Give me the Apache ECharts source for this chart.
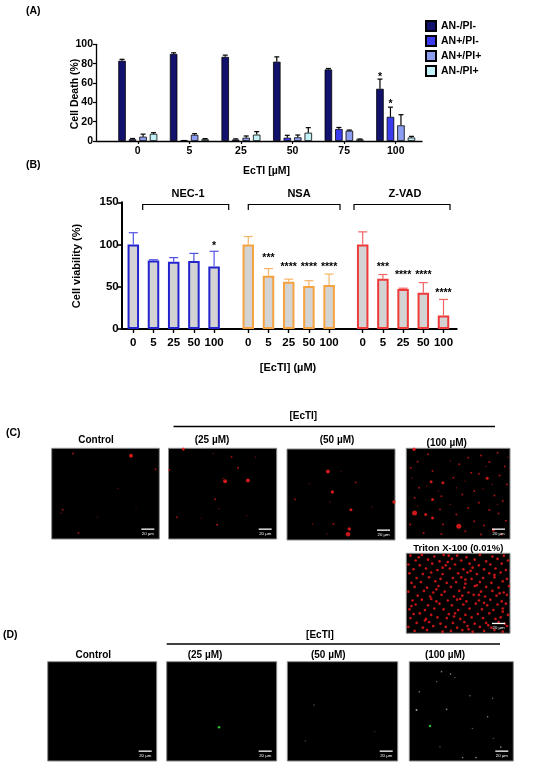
<!DOCTYPE html>
<html>
<head>
<meta charset="utf-8">
<title>EcTI cell death</title>
<script src="https://cdn.jsdelivr.net/npm/echarts@6/dist/echarts.min.js"></script>
<style>
  html, body { margin: 0; padding: 0; background: #fff; }
  #main { width: 550px; height: 765px; }
</style>
</head>
<body>
<div id="main"></div>
<script>
// ---------- (A) annexin / PI ----------
var doseA = ['0', '5', '25', '50', '75', '100'];
var namesA = ['AN-/PI-', 'AN+/PI-', 'AN+/PI+', 'AN-/PI+'];
var anNegPiNeg = [83, 90, 87, 82, 74, 54];
var anNegPiNegErr = [1.5, 1.2, 1.8, 5, 1, 10];
var anPosPiNeg = [1.8, 0.3, 1.5, 3.4, 12.4, 25];
var anPosPiNegErr = [0.8, 0.2, 0.7, 2.5, 1.6, 10];
var anPosPiPos = [4.5, 6.4, 3.4, 3.8, 10.7, 16.2];
var anPosPiPosErr = [2.6, 1.2, 1.8, 2.4, 0.6, 11];
var anNegPiPos = [7.4, 1.8, 6.6, 8.6, 1.7, 3.6];
var anNegPiPosErr = [1.2, 0.7, 3.1, 5.2, 0.4, 1.2];
var starA1 = ['', '', '', '', '', '*'];
var starA1Level = [0, 0, 0, 0, 0, 68.5];
var starA2 = ['', '', '', '', '', '*'];
var starA2Level = [0, 0, 0, 0, 0, 40.5];
var noStars = ['', '', '', '', '', ''];

// ---------- (B) viability with inhibitors ----------
var doseB = ['0', '5', '25', '50', '100'];
var nec1 = [100, 81, 79.5, 80.5, 74];
var nec1Err = [14, 1, 5, 9, 18];
var nec1Stars = ['', '', '', '', '*'];
var nec1StarLevel = [0, 0, 0, 0, 101.5];
var nsa = [100, 63, 56, 51, 52];
var nsaErr = [9.5, 8.5, 3, 6.2, 13];
var nsaStars = ['', '***', '****', '****', '****'];
var nsaStarLevel = [0, 86.5, 76.6, 76.6, 76.6];
var zvad = [100, 59.5, 47.5, 43, 16];
var zvadErr = [15, 5, 0.8, 11.9, 19];
var zvadStars = ['', '***', '****', '****', '****'];
var zvadStarLevel = [0, 75.8, 66.7, 66.7, 45.4];

// ---------- (C) PI images: spots [x%, y%, size, alpha] ----------
var cControl = [[19.9,5.6,2,0.8],[73.7,8.1,4,1],[96.5,23,2,0.7],[61.4,44.4,1.5,0.4],[10.2,67.8,2,0.7],
  [8.8,71.5,1.5,0.5],[78.4,64.8,1.5,0.35],[24.9,93.3,2,0.7],[42.4,75.9,1.5,0.35]];
var c25 = [[13.7,0.7,3,1],[0.5,24,2,0.8],[41.5,5.6,1.5,0.5],[58.2,9.3,2,0.7],[64.3,21.5,2,0.8],[80.4,10,1.5,0.5],
  [52.3,36.3,4,1],[73.4,35.6,4,1],[50.3,33.3,1.5,0.6],[43,56.3,2,0.8],[46.5,66.7,1.5,0.5],[7.9,75.9,2,0.7],
  [45,84.4,2,0.9],[30.4,77,1.5,0.4],[72.2,74,1.5,0.4]];
var c50 = [[37.9,24.7,4,1],[42,47.2,3.5,1],[59.2,66.8,3,1],[57.7,87.8,3.5,1],[56.5,93.7,4.5,1],[99.1,58.3,3.5,1],
  [7.4,55.4,2,0.7],[23.7,82.3,1.5,0.6],[42.9,82.3,2,0.7],[63.6,36.9,2,0.7],[50.3,25.1,1.5,0.4],[39.9,58.3,1.5,0.5],
  [78.4,63.8,1.5,0.4],[20.7,38,1.5,0.4],[37,93.4,1.5,0.5]];
var c100 = [[7.5,1.1,3.5,1],[10.9,14.8,2,0.8],[21,6.6,2,0.8],[4.3,21.4,2,0.8],[25.3,25.1,2,0.8],[35.3,38,3,1],
  [23.9,36.9,3,1],[51.1,17.7,2,0.8],[59.8,10.3,2,0.8],[5.2,32.5,1.5,0.6],[12.4,43.5,2,0.8],[19.5,41.7,1.5,0.6],
  [31,47.2,1.5,0.6],[45.4,32.5,2,0.8],[56.9,36.2,1.5,0.6],[62.6,26.9,2,0.8],[8,54.6,2,0.8],[25.3,56.5,3,1],
  [33.9,52.8,2,0.8],[42.5,62,1.5,0.6],[54,50.9,2,0.8],[8,71.2,5,1],[18.7,73.1,3,1],[25.3,76.8,3,1],
  [32.5,67.5,2,0.8],[48.3,73.1,2,0.8],[59.8,65.7,2,0.8],[50.6,86,5,1],[35.3,84.1,2,0.8],[16.7,93.4,2,0.8],
  [33.9,94.5,2,0.8],[56.9,91.5,2,0.8],[3.7,84.1,2,0.8],[10.9,63.8,1.5,0.6],[65.5,80.4,2,0.8],[42.5,14,1.5,0.6],
  [48.3,43.5,1.5,0.6],[65.5,47.2,2,0.8],[72,8,2,0.8],[80,15,2,0.8],[88,5,2,0.8],[95,20,2,0.8],[70,28,2,0.8],
  [78,33,3,1],[90,30,2,0.8],[97,40,2,0.8],[74,45,1.5,0.6],[85,52,2,0.8],[93,58,2,0.8],[70,60,2,0.8],
  [80,68,2,0.8],[89,72,2,0.8],[96,80,2,0.8],[75,85,2,0.8],[84,90,3,1],[92,95,2,0.8],[72,95,2,0.8],
  [98,10,1.5,0.6],[83,40,1.5,0.6],[88,62,1.5,0.6],[77,20,1.5,0.6]];
var cTriton = [[4,3],[15,2],[27,4],[36,2],[49,3],[58,5],[71,2],[83,4],[94,3],
  [9,9],[21,8],[32,10],[44,7],[53,9],[66,8],[77,10],[88,7],[98,9],
  [2,14],[13,15],[25,13],[38,15],[47,14],[61,13],[70,15],[81,14],[92,13],
  [7,20],[19,19],[30,21],[42,19],[55,20],[64,18],[75,20],[86,19],[96,21],
  [3,25],[16,26],[24,24],[35,26],[50,25],[59,24],[68,26],[80,25],[91,24],
  [10,31],[22,30],[33,32],[45,31],[53,30],[63,32],[74,31],[85,30],[97,32],
  [5,37],[14,36],[28,35],[39,37],[48,36],[57,38],[71,36],[82,37],[93,35],
  [8,42],[20,43],[31,41],[43,42],[56,43],[66,41],[77,42],[89,43],[99,41],
  [2,48],[17,47],[26,49],[37,48],[51,47],[60,49],[72,48],[83,47],[94,49],
  [11,53],[23,54],[34,52],[46,54],[54,53],[65,52],[76,54],[87,53],[97,52],
  [6,59],[15,58],[29,60],[40,59],[49,58],[58,60],[70,59],[81,58],[92,60],
  [9,64],[21,65],[32,63],[44,65],[55,64],[67,63],[78,65],[88,64],[96,63],
  [3,70],[18,71],[27,69],[36,70],[50,71],[61,69],[73,70],[84,71],[93,69],
  [7,76],[13,75],[24,77],[41,76],[47,75],[57,77],[69,76],[80,75],[98,77],
  [4,81],[19,82],[30,80],[39,81],[52,82],[63,80],[74,81],[86,82],[91,80],
  [10,87],[22,86],[33,88],[45,87],[56,86],[66,88],[77,87],[89,86],[95,88],
  [2,92],[16,93],[26,91],[38,92],[49,93],[59,91],[71,92],[82,93],[97,91],
  [8,97],[20,96],[35,98],[43,97],[54,96],[64,98],[75,97],[85,96],[93,98],
  [12,5],[40,11],[62,22],[85,27],[29,45],[52,57],[75,62],[18,84],[60,95],[90,50],
  [35,18],[68,40],[46,79],[5,66],[79,90],[57,33],[24,57],[93,73],[41,3],[70,52]];

// ---------- (D) green images ----------
var dControl = [];
var d25Green = [[47.6,66,2.6,1]];
var d50Gray = [[24.2,43.6,1.6,0.5],[16.4,79.9,1.4,0.4],[79.3,70.5,1.3,0.3]];
var d100Gray = [[31,10,1.6,0.7],[39.7,12.4,1.6,0.8],[43.9,16,1.4,0.6],[26.3,20.1,1.4,0.6],[9.6,30.2,1.6,0.7],
  [58.3,34.2,1.5,0.6],[80.1,36.9,1.5,0.6],[7,48.7,2,0.9],[35.9,48,1.8,0.7],[75.3,55.4,1.6,0.7],[60.6,67.1,1.4,0.6],
  [80.8,77.2,1.4,0.5],[29.5,85.6,1.4,0.5],[51.3,96.6,1.6,0.7],[64.1,96.6,1.6,0.8],[88,86,1.6,0.8]];
var d100Green = [[19.9,64.8,2.4,1]];

var FONT = '"Liberation Sans", Arial, Helvetica, sans-serif';
var chart = echarts.init(document.getElementById('main'));

// error bar (+ asterisk) drawn on top of a bar
function errorBars(ax, vals, errs, stars, levels, shift, cap, color, lw) {
    return {
        type: 'custom', xAxisIndex: ax, yAxisIndex: ax, z: 10, silent: true,
        data: vals.map(function (v, i) { return [i, v, v + errs[i], levels[i]]; }),
        renderItem: function (params, api) {
            var lo = api.coord([api.value(0), api.value(1)]);
            var hi = api.coord([api.value(0), api.value(2)]);
            var x = lo[0] + shift;
            var kids = [
                { type: 'line', shape: { x1: x, y1: lo[1], x2: x, y2: hi[1] }, style: { stroke: color, lineWidth: lw } },
                { type: 'line', shape: { x1: x - cap / 2, y1: hi[1], x2: x + cap / 2, y2: hi[1] }, style: { stroke: color, lineWidth: lw } }
            ];
            var s = stars[params.dataIndex];
            if (s) {
                var sp = api.coord([api.value(0), api.value(3)]);
                kids.push({ type: 'text', style: { text: s, x: x, y: sp[1] + 2.4, align: 'center', verticalAlign: 'middle',
                    fontFamily: FONT, fontWeight: 'bold', fontSize: 10.5, fill: '#000' } });
            }
            return { type: 'group', children: kids };
        }
    };
}

function spots(ax, pts, rgb, defSize) {
    return {
        type: 'scatter', xAxisIndex: ax, yAxisIndex: ax, silent: true, clip: true,
        data: pts,
        symbolSize: function (d) { return d[2] || defSize; },
        itemStyle: { color: function (p) { var a = p.data[3] == null ? 0.95 : p.data[3]; return 'rgba(' + rgb + ',' + a + ')'; } }
    };
}

function txt(x, y, s, size, align, rot, color, weight) {
    return { type: 'text', x: x, y: y, rotation: rot || 0, silent: true, z: 100,
        style: { text: s, fontFamily: FONT, fontWeight: weight || 'bold', fontSize: size, fill: color || '#000',
            align: align || 'center', verticalAlign: 'middle' } };
}

var boldLabel = { color: '#000', fontFamily: FONT, fontWeight: 'bold', interval: 0 };
var lineOnly = function (gi, w) {
    return { gridIndex: gi, type: 'value', min: 0, max: 1,
        axisLine: { show: true, lineStyle: { color: '#000', width: w } },
        axisTick: { show: false }, axisLabel: { show: false }, splitLine: { show: false } };
};

var grids = [
    { left: 112, top: 44.3, width: 309.5, height: 96.7 },      // 0 A data
    { left: 96, top: 44.3, width: 326, height: 96.7 },         // 1 A axes
    { left: 121.7, top: 202.3, width: 335, height: 126.7 },    // 2 B axes
    { left: 123.2, top: 202.3, width: 101, height: 126.7 },    // 3 NEC-1
    { left: 238.2, top: 202.3, width: 101, height: 126.7 },    // 4 NSA
    { left: 352.6, top: 202.3, width: 101, height: 126.7 }     // 5 Z-VAD
];
var xAxes = [
    { gridIndex: 0, type: 'category', data: doseA,
      axisLine: { show: false },
      axisTick: { show: true, alignWithLabel: true, length: 3, lineStyle: { color: '#000', width: 1.2 } },
      axisLabel: Object.assign({ fontSize: 10.5, margin: 4.5 }, boldLabel) },
    lineOnly(1, 1.3),
    lineOnly(2, 2)
];
var yAxes = [
    { gridIndex: 0, type: 'value', min: 0, max: 100, show: false },
    { gridIndex: 1, type: 'value', min: 0, max: 100, interval: 20, splitLine: { show: false },
      axisLine: { show: true, lineStyle: { color: '#000', width: 1.3 } },
      axisTick: { show: true, length: 3, lineStyle: { color: '#000', width: 1.2 } },
      axisLabel: Object.assign({ fontSize: 10.5, margin: 3 }, boldLabel) },
    { gridIndex: 2, type: 'value', min: 0, max: 150, interval: 50, splitLine: { show: false },
      axisLine: { show: true, lineStyle: { color: '#000', width: 2 } },
      axisTick: { show: true, length: 4, lineStyle: { color: '#000', width: 1.6 } },
      axisLabel: Object.assign({ fontSize: 11.5, margin: 3 }, boldLabel) }
];
for (var g = 3; g <= 5; g++) {
    xAxes.push({ gridIndex: g, type: 'category', data: doseB,
        axisLine: { show: false },
        axisTick: { show: true, alignWithLabel: true, length: 4, lineStyle: { color: '#000', width: 1.4 } },
        axisLabel: Object.assign({ fontSize: 11.5, margin: 8 }, boldLabel) });
    yAxes.push({ gridIndex: g, type: 'value', min: 0, max: 150, show: false });
}

// microscope fields: [left, top, width, height]
var imgBoxes = [
    [51.7, 448.3, 107.6, 90.7], [168.5, 448.3, 108.2, 90.7], [287, 449, 108, 91], [406.3, 448.3, 103.7, 90.7],
    [406.3, 553.3, 103.7, 80],
    [47.7, 661.7, 109, 99.3], [166.7, 661.7, 110, 99.3], [287.3, 661.7, 110.4, 99.3], [409.3, 661.7, 104, 99.3]
];
var graphics = [];
imgBoxes.forEach(function (b) {
    var gi = grids.length;
    grids.push({ left: b[0], top: b[1], width: b[2], height: b[3], show: true,
        backgroundColor: '#000', borderColor: '#8a8a8a', borderWidth: 1 });
    xAxes.push({ gridIndex: gi, type: 'value', min: 0, max: 100, show: false });
    yAxes.push({ gridIndex: gi, type: 'value', min: 0, max: 100, inverse: true, show: false });
    var r = b[0] + b[2], btm = b[1] + b[3];
    graphics.push({ type: 'rect', z: 100, silent: true, shape: { x: r - 18, y: btm - 10.5, width: 13, height: 1.3 }, style: { fill: '#fff' } });
    graphics.push(txt(r - 11.5, btm - 5, '20 µm', 4.3, 'center', 0, '#fff', 'normal'));
});

var barA = function (i, data, color) {
    return { name: namesA[i], type: 'bar', xAxisIndex: 0, yAxisIndex: 0, data: data, barWidth: 7.5, barGap: '40%',
        itemStyle: { color: color, borderColor: '#000', borderWidth: 0.8 } };
};
var barB = function (ax, data, edge) {
    return { type: 'bar', xAxisIndex: ax, yAxisIndex: ax, data: data, barWidth: 11.5,
        itemStyle: { color: '#d3d3d3', borderColor: edge, borderWidth: 2 } };
};

var series = [
    barA(0, anNegPiNeg, '#12126e'),
    barA(1, anPosPiNeg, '#3b3bee'),
    barA(2, anPosPiPos, '#8c9df2'),
    barA(3, anNegPiPos, '#c2f2f7'),
    errorBars(0, anNegPiNeg, anNegPiNegErr, starA1, starA1Level, -15.75, 5, '#000', 1.2),
    errorBars(0, anPosPiNeg, anPosPiNegErr, starA2, starA2Level, -5.25, 5, '#000', 1.2),
    errorBars(0, anPosPiPos, anPosPiPosErr, noStars, starA1Level, 5.25, 5, '#000', 1.2),
    errorBars(0, anNegPiPos, anNegPiPosErr, noStars, starA1Level, 15.75, 5, '#000', 1.2),

    barB(3, nec1, '#2424cf'),
    barB(4, nsa, '#f5a340'),
    barB(5, zvad, '#f03a3a'),
    errorBars(3, nec1, nec1Err, nec1Stars, nec1StarLevel, 0, 9, '#5252e2', 1.2),
    errorBars(4, nsa, nsaErr, nsaStars, nsaStarLevel, 0, 9, '#f7b466', 1.2),
    errorBars(5, zvad, zvadErr, zvadStars, zvadStarLevel, 0, 9, '#f26464', 1.2),

    spots(6, cControl, '255,30,30', 2), spots(7, c25, '255,30,30', 2), spots(8, c50, '255,30,30', 2),
    spots(9, c100, '255,30,30', 2), spots(10, cTriton, '255,28,28', 2.7),
    spots(11, dControl, '220,220,220', 1.5), spots(12, d25Green, '60,230,60', 2),
    spots(13, d50Gray, '220,220,220', 1.5), spots(14, d100Gray, '225,225,225', 1.5), spots(14, d100Green, '60,230,60', 2)
];

// panel letters, axis titles, brackets, headers
var bracket = function (x1, x2) {
    return { type: 'polyline', silent: true, shape: { points: [[x1, 210], [x1, 204.5], [x2, 204.5], [x2, 210]] },
        style: { stroke: '#000', lineWidth: 1.2, fill: null } };
};
graphics = graphics.concat([
    txt(26, 11, '(A)', 10.5, 'left'),
    txt(26, 165, '(B)', 10.5, 'left'),
    txt(6, 433, '(C)', 10.5, 'left'),
    txt(3, 635, '(D)', 10.5, 'left'),
    txt(75, 94, 'Cell Death (%)', 10.5, 'center', Math.PI / 2),
    txt(266.5, 171, 'EcTI [µM]', 10.5),
    txt(77, 266, 'Cell viability (%)', 11, 'center', Math.PI / 2),
    txt(288, 368, '[EcTI] (µM)', 11),
    txt(188, 194, 'NEC-1', 11),
    txt(299, 194, 'NSA', 11),
    txt(405, 194, 'Z-VAD', 11),
    bracket(142.7, 228.7),
    bracket(248.3, 340),
    bracket(354, 450),

    txt(303.3, 416, '[EcTI]', 10),
    { type: 'line', silent: true, shape: { x1: 173.5, y1: 426.5, x2: 495, y2: 426.5 }, style: { stroke: '#000', lineWidth: 1.6 } },
    txt(96, 440.7, 'Control', 10),
    txt(212, 440.3, '(25 µM)', 10),
    txt(337, 440.3, '(50 µM)', 10),
    txt(446.7, 443, '(100 µM)', 10),
    txt(458.3, 548, 'Triton X-100 (0.01%)', 9.5),

    txt(320, 635, '[EcTI]', 10),
    { type: 'line', silent: true, shape: { x1: 166.7, y1: 644, x2: 500, y2: 644 }, style: { stroke: '#000', lineWidth: 1.6 } },
    txt(93.3, 655, 'Control', 10),
    txt(205, 655, '(25 µM)', 10),
    txt(328.3, 655, '(50 µM)', 10),
    txt(445, 655.5, '(100 µM)', 10)
]);

var option = {
    backgroundColor: '#fff',
    animation: false,
    legend: {
        data: namesA, orient: 'vertical', left: 420, top: 15, icon: 'rect',
        itemWidth: 10, itemHeight: 10, itemGap: 3,
        textStyle: { fontFamily: FONT, fontWeight: 'bold', fontSize: 10.5, color: '#000' }
    },
    grid: grids,
    xAxis: xAxes,
    yAxis: yAxes,
    series: series,
    graphic: { elements: graphics }
};

chart.setOption(option);
</script>
</body>
</html>
